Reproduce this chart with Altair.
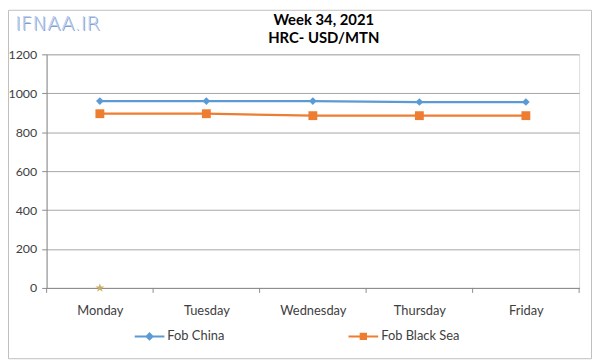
import json
import altair as alt
import pandas as pd

# ---- data ----
days = ["Monday", "Tuesday", "Wednesday", "Thursday", "Friday"]
series = ["Fob China", "Fob Black Sea"]
fob_china = [960, 960, 960, 955, 955]
fob_black_sea = [895, 895, 885, 885, 885]
extra_day_index = [0]
extra_value = [0]
title_lines = ["Week 34, 2021", "HRC- USD/MTN"]
watermark = ["IFNAA.IR"]
y_ticks = [0, 200, 400, 600, 800, 1000, 1200]
band_edges = [-0.5, 0.5, 1.5, 2.5, 3.5, 4.5]

colors = ["#5b9bd5", "#ed7d31"]
FONT = "Lato"
TXT = "#404040"

rows = []
for i, d in enumerate(days):
    rows.append({"idx": i, "day": d, "series": series[0], "value": fob_china[i]})
    rows.append({"idx": i, "day": d, "series": series[1], "value": fob_black_sea[i]})
df = pd.DataFrame(rows)

W, H = 538, 236

xscale = alt.Scale(domain=[-0.5, 4.5], nice=False, zero=False)
yscale = alt.Scale(domain=[0, 1200], nice=False)

x_axis = alt.Axis(values=list(range(len(days))),
                  labelExpr=json.dumps(days) + "[datum.value]",
                  ticks=False, tickSize=0, grid=False, domainColor="#8c8c8c",
                  labelPadding=17, title=None, labelFont=FONT, labelFontSize=13,
                  labelColor=TXT, labelOverlap=False)
y_axis = alt.Axis(values=y_ticks, format="d", grid=True, gridColor="#a6a6a6", gridWidth=1,
                  tickSize=5, tickColor="#8c8c8c", domainColor="#8c8c8c",
                  labelPadding=5, title=None, labelFont=FONT, labelFontSize=12.5,
                  labelColor=TXT, labelOverlap=False)
xs = alt.X("idx:Q", scale=xscale, axis=x_axis)
ys = alt.Y("value:Q", scale=yscale, axis=y_axis)
cscale = alt.Scale(domain=series, range=colors)

base = alt.Chart(df)
lines = base.mark_line(strokeWidth=2.25).encode(
    x=xs, y=ys, color=alt.Color("series:N", scale=cscale, legend=None))

pts_china = base.transform_filter(alt.datum.series == series[0]).mark_point(
    filled=True, opacity=1, shape="diamond", size=60
).encode(x=xs, y=ys, color=alt.Color("series:N", scale=cscale, legend=None))
pts_sea = base.transform_filter(alt.datum.series == series[1]).mark_point(
    filled=True, opacity=1, shape="square", size=80
).encode(x=xs, y=ys, color=alt.Color("series:N", scale=cscale, legend=None))

# legend-only layer: symbols = short line + marker
china_sym = "M-1,0H1M0,-0.2L0.2,0L0,0.2L-0.2,0Z"
sea_sym = "M-1,0H1M-0.18,-0.18H0.18V0.18H-0.18Z"
leg = alt.Legend(
    title=None, orient="none", legendX=88, legendY=269, direction="horizontal",
    symbolSize=900, symbolStrokeWidth=2, labelFont=FONT, labelFontSize=13,
    labelColor=TXT, labelOffset=2, columnPadding=121, padding=0, symbolOpacity=1,
)
legend_layer = base.mark_point(filled=True, opacity=0, strokeWidth=2).encode(
    x=xs, y=ys,
    fill=alt.Fill("series:N", scale=alt.Scale(domain=series, range=colors), legend=leg),
    stroke=alt.Stroke("series:N", scale=alt.Scale(domain=series, range=colors), legend=leg),
    shape=alt.Shape("series:N", scale=alt.Scale(domain=series, range=[china_sym, sea_sym]),
                    legend=leg),
)

star_path = ("M0,-1L0.22,-0.3L0.95,-0.31L0.36,0.12L0.59,0.81L0,0.38L-0.59,0.81"
             "L-0.36,0.12L-0.95,-0.31L-0.22,-0.3Z")
extra = alt.Chart(pd.DataFrame({"idx": extra_day_index, "value": extra_value})).mark_point(
    filled=True, opacity=1, shape=star_path, size=90, color="#c9ad64"
).encode(x=xs, y=ys)

ticks = alt.Chart(pd.DataFrame({"edge": band_edges})).mark_rule(
    color="#8c8c8c", strokeWidth=1
).encode(x=alt.X("edge:Q", scale=xscale, axis=x_axis), y=alt.value(H), y2=alt.value(H + 5))

wm_df = pd.DataFrame({"t": watermark})
wm_shadow = alt.Chart(wm_df).mark_text(
    align="left", baseline="middle", fontSize=20, font="DejaVu Sans", fontWeight=300,
    color="#7f9dd0", dx=1, dy=1
).encode(x=alt.value(-32), y=alt.value(-31), text="t:N")
wm = alt.Chart(wm_df).mark_text(
    align="left", baseline="middle", fontSize=20, font="DejaVu Sans", fontWeight=300,
    color="#b8cdee"
).encode(x=alt.value(-32), y=alt.value(-31), text="t:N")

t1 = alt.Chart(pd.DataFrame({"t": title_lines[:1]})).mark_text(
    align="center", baseline="middle", fontSize=15, fontWeight="bold", font=FONT,
    color="#000000"
).encode(x=alt.value(280), y=alt.value(-35), text="t:N")
t2 = alt.Chart(pd.DataFrame({"t": title_lines[1:]})).mark_text(
    align="center", baseline="middle", fontSize=15, fontWeight="bold", font=FONT,
    color="#000000"
).encode(x=alt.value(280), y=alt.value(-16), text="t:N")

frame = alt.Chart(pd.DataFrame({"t": [0]})).mark_rect(
    fill=None, stroke="#bfbfbf", strokeWidth=1
).encode(x=alt.value(-38.5), x2=alt.value(550.5), y=alt.value(-44.5), y2=alt.value(307.5))

chart = alt.layer(legend_layer, frame, wm_shadow, wm, t1, t2, ticks, lines, pts_china,
                  pts_sea, extra).properties(
    width=W, height=H,
    autosize=alt.AutoSizeParams(type="none"),
    padding={"left": 39, "top": 45, "right": 13, "bottom": 73},
).configure_view(stroke=None).configure(background="white")

chart.save("out.html", embed_options={"renderer": "svg", "actions": False})
